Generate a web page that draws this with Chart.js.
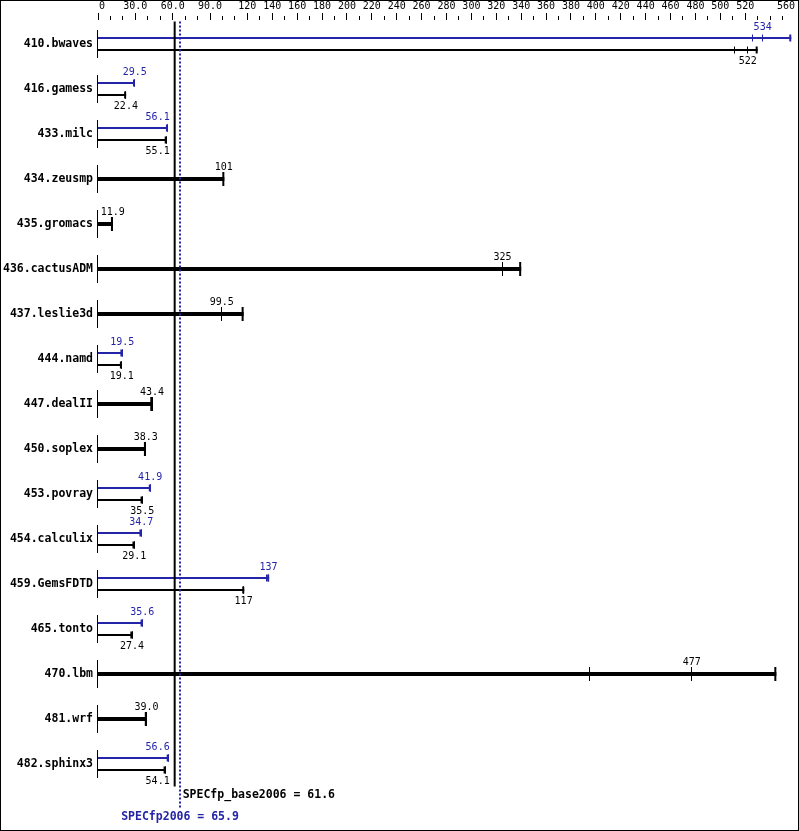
<!DOCTYPE html>
<html>
<head>
<meta charset="utf-8">
<script src="https://cdn.jsdelivr.net/npm/chart.js@4/dist/chart.umd.min.js"></script>
<style>
  html, body { margin: 0; padding: 0; background: #fff; }
  canvas { display: block; }
</style>
</head>
<body>
<canvas id="c" width="799" height="831"></canvas>
<script>
// ---- data ----
const benchmarks = ['410.bwaves','416.gamess','433.milc','434.zeusmp','435.gromacs','436.cactusADM','437.leslie3d','444.namd','447.dealII','450.soplex','453.povray','454.calculix','459.GemsFDTD','465.tonto','470.lbm','481.wrf','482.sphinx3'];

// base runs: median (reported), min and max of runs
const baseMedian = [522, 22.4, 55.1, 101, 11.9, 325, 99.5, 19.1, 43.4, 38.3, 35.5, 29.1, 117, 27.4, 477, 39.0, 54.1];
const baseMin    = [511, 22.4, 55.1, 101, 11.9, 325, 99.5, 19.1, 43.4, 38.3, 35.5, 29.1, 117, 27.4, 395, 39.0, 54.1];
const baseMax    = [530, 22.6, 55.2, 101.5, 12.0, 340, 117, 19.2, 43.6, 38.5, 35.8, 29.3, 117.5, 27.6, 545, 39.2, 54.3];

// peak runs (null = peak not shown separately)
const peakMedian = [534, 29.5, 56.1, null, null, null, null, 19.5, null, null, 41.9, 34.7, 137, 35.6, null, null, 56.6];
const peakMin    = [526, 29.5, 56.1, null, null, null, null, 19.5, null, null, 41.9, 34.7, 135.5, 35.6, null, null, 56.6];
const peakMax    = [557, 29.7, 56.2, null, null, null, null, 19.6, null, null, 42.4, 34.9, 137.5, 35.8, null, null, 56.8];

const specBase = 61.6;
const specPeak = 65.9;

const axisTickValues = [0, 30, 60, 90, 120, 140, 160, 180, 200, 220, 240, 260, 280, 300, 320, 340, 360, 380, 400, 420, 440, 460, 480, 500, 520, 560];
const axisTickLabels = ['0', '30.0', '60.0', '90.0', '120', '140', '160', '180', '200', '220', '240', '260', '280', '300', '320', '340', '360', '380', '400', '420', '440', '460', '480', '500', '520', '560'];

const BLUE = '#2424a8';
const MONO = "'DejaVu Sans Mono', monospace";

const fmt = v => (v >= 100 ? String(Math.round(v)) : v.toFixed(1));

const specPlugin = {
  id: 'spec',
  afterDraw(chart) {
    const ctx = chart.ctx;
    const xs = chart.scales.x;
    const ys = chart.scales.y;
    const area = chart.chartArea;
    const bx = xs.getPixelForValue(specBase);
    const px2 = xs.getPixelForValue(specPeak);
    ctx.save();

    // top axis tick marks
    ctx.strokeStyle = '#000';
    ctx.lineWidth = 1;
    xs.ticks.forEach(t => {
      if (t.value >= xs.max) return;
      const px = Math.floor(xs.getPixelForValue(t.value)) + 0.5;
      const major = axisTickValues.includes(t.value);
      ctx.beginPath();
      ctx.moveTo(px, major ? 13 : 16);
      ctx.lineTo(px, 20);
      ctx.stroke();
    });
    // top axis labels
    ctx.font = '10px ' + MONO;
    ctx.fillStyle = '#000';
    ctx.textBaseline = 'middle';
    axisTickValues.forEach((v, i) => {
      const px = xs.getPixelForValue(v);
      ctx.textAlign = i === 0 ? 'left' : (v >= xs.max ? 'right' : 'center');
      ctx.fillText(axisTickLabels[i], i === 0 ? px + 1 : px, 6.5);
    });

    // row stubs at zero
    const x0 = Math.floor(xs.getPixelForValue(0)) - 0.5;
    benchmarks.forEach((b, i) => {
      const cy = ys.getPixelForValue(i);
      ctx.beginPath();
      ctx.moveTo(x0, cy - 14);
      ctx.lineTo(x0, cy + 14);
      ctx.stroke();
    });

    // run marks and value labels
    const drawRuns = (dsIndex, mins, meds, maxs, color, labelBelow) => {
      const meta = chart.getDatasetMeta(dsIndex);
      meta.data.forEach((el, i) => {
        if (meds[i] == null) return;
        const cy = el.y;
        const half = el.height / 2;
        const tickH = half > 1.5 ? 7 : 3.5;
        ctx.strokeStyle = color;
        [mins[i], meds[i]].forEach(v => {
          const px = Math.floor(xs.getPixelForValue(v)) + 0.5;
          ctx.lineWidth = 1;
          ctx.beginPath();
          ctx.moveTo(px, cy - tickH);
          ctx.lineTo(px, cy + tickH);
          ctx.stroke();
        });
        const pe = xs.getPixelForValue(maxs[i]);
        ctx.lineWidth = 2;
        ctx.beginPath();
        ctx.moveTo(pe - 1, cy - tickH);
        ctx.lineTo(pe - 1, cy + tickH);
        ctx.stroke();
        // label
        const below = labelBelow && peakMedian[i] != null;
        ctx.fillStyle = color;
        ctx.font = '10px ' + MONO;
        ctx.textAlign = 'center';
        ctx.textBaseline = 'middle';
        const txt = fmt(meds[i]);
        let lx = xs.getPixelForValue(meds[i]);
        const w = ctx.measureText(txt).width;
        if (lx - w / 2 < area.left + 2) lx = area.left + 2 + w / 2;
        // keep labels clear of the SPEC mean lines
        if (lx + w / 2 > bx - 5 && lx - w / 2 < px2 + 5) lx = bx - 5 - w / 2;
        const ly = below ? cy + half + 10 : cy - half - 10;
        ctx.fillText(txt, lx, ly);
      });
    };
    drawRuns(0, peakMin, peakMedian, peakMax, BLUE, false);
    drawRuns(1, baseMin, baseMedian, baseMax, '#000', true);

    // SPECfp_base2006 reference line
    ctx.strokeStyle = '#000';
    ctx.lineWidth = 2;
    ctx.beginPath();
    ctx.moveTo(bx, area.top);
    ctx.lineTo(bx, area.bottom);
    ctx.stroke();
    // SPECfp2006 reference line (dotted)
    ctx.strokeStyle = BLUE;
    ctx.setLineDash([2, 2]);
    ctx.beginPath();
    ctx.moveTo(px2, area.top);
    ctx.lineTo(px2, area.bottom + 21);
    ctx.stroke();
    ctx.setLineDash([]);

    ctx.font = 'bold 11.5px ' + MONO;
    ctx.textBaseline = 'middle';
    ctx.fillStyle = '#000';
    ctx.textAlign = 'left';
    ctx.fillText('SPECfp_base2006 = ' + specBase.toFixed(1), bx + 8, area.bottom + 8.5);
    ctx.fillStyle = BLUE;
    ctx.textAlign = 'center';
    ctx.fillText('SPECfp2006 = ' + specPeak.toFixed(1), px2, area.bottom + 31);

    // outer frame
    ctx.strokeStyle = '#000';
    ctx.lineWidth = 1;
    ctx.strokeRect(0.5, 0.5, chart.width - 1, chart.height - 1);
    ctx.restore();
  }
};

new Chart(document.getElementById('c'), {
  type: 'bar',
  data: {
    labels: benchmarks,
    datasets: [
      { label: 'peak', data: peakMax, backgroundColor: BLUE, skipNull: true, borderWidth: 0 },
      { label: 'base', data: baseMax, backgroundColor: '#000', skipNull: true, borderWidth: 0 }
    ]
  },
  options: {
    indexAxis: 'y',
    responsive: false,
    animation: false,
    devicePixelRatio: 1,
    categoryPercentage: 24 / 45,
    barPercentage: 1 / 6,
    layout: { padding: { top: 0, left: 0, right: 4, bottom: 44.5 } },
    plugins: { legend: { display: false }, tooltip: { enabled: false } },
    scales: {
      x: {
        type: 'linear', position: 'top', min: 0, max: 560,
        ticks: { display: false, stepSize: 10 },
        grid: { display: false, drawTicks: false },
        border: { display: false },
        afterFit(s) { s.height = 21.5; }
      },
      y: {
        ticks: { font: { family: MONO, weight: 'bold', size: 11.5 }, color: '#000', padding: 5, autoSkip: false },
        grid: { display: false, drawTicks: false },
        border: { display: false },
        afterFit(s) { s.width = 98; }
      }
    }
  },
  plugins: [specPlugin]
});
</script>
</body>
</html>
